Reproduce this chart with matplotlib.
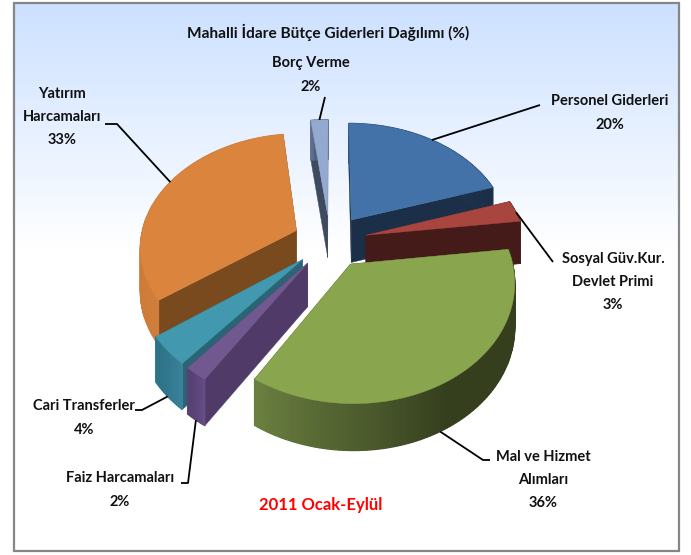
import numpy as np
import matplotlib
matplotlib.use("Agg")
import matplotlib.pyplot as plt
from matplotlib.colors import to_rgb
from matplotlib.patches import Polygon, Rectangle

plt.rcParams['font.family'] = ['Lato', 'DejaVu Sans']

# data, clockwise from 12 o'clock
labels = ['Personel Giderleri', 'Sosyal Güv.Kur.\nDevlet Primi', 'Mal ve Hizmet\nAlımları',
          'Faiz Harcamaları', 'Cari Transferler', 'Yatırım\nHarcamaları', 'Borç Verme']
values = [20, 3, 36, 2, 4, 33, 2]

top_colors = ['#4272a8', '#a8453f', '#89a54e', '#71588f', '#4198af', '#db843d', '#93a9cf']
wall_colors = ['#1b3048', '#441b19', '#3a4420', '#4f3a68', '#2a6475', '#794a1e', '#3d4a60']
rim_light = ['#2f527a', '#441b19', '#6b8040', '#654d84', '#3a8299', '#cf7d3a', '#5c6f90']
rim_dark = ['#1b3048', '#441b19', '#353f1e', '#574072', '#2f7388', '#c67a3a', '#3d4a60']

# where each wedge is drawn in the stack, back to front
draw_order = [6, 0, 5, 1, 4, 3, 2]

# pie geometry in image pixels
CX, CY = 330, 241
R = 160
slice_radius = [160, 160, 158, 160, 160, 156, 160]
EXPLODE = 37
TILT = 0.72
PERSP = 0.137
DEPTH = 43

# label text centre and leader line elbow points
label_pos = [(610, 113), (613, 282), (543, 480), (120, 490), (84, 418), (62, 117), (311, 75)]
leaders = [[(540, 105)],
           [(553, 262)],
           [(483, 460), (490, 460)],
           [(188, 483), (181, 483)],
           [(142, 410), (135, 410)],
           [(117, 124), (105, 124)],
           [(325, 97)]]
leader_angle = [36, 78, 152, 216, 226.8, 298, 356.4]
leader_drop = [0, 0, 1, 1, 1, 0, 0]


def project(theta, mid, radius=R, drop=0.0):
    """Map a point of an exploded wedge to image pixels."""
    u = EXPLODE * np.sin(mid) + radius * np.sin(theta)
    v = EXPLODE * np.cos(mid) + radius * np.cos(theta)
    k = 1.0 / (1.0 + PERSP * v / R)
    return CX + u * k, CY - TILT * v * k + drop * DEPTH * np.sqrt(k)


def mix(c1, c2, t):
    a, b = np.array(to_rgb(c1)), np.array(to_rgb(c2))
    return tuple(a + (b - a) * t)


fig = plt.figure(figsize=(6.91, 5.55), dpi=100)
ax = fig.add_axes([0, 0, 1, 1])
ax.axis('off')

# panel background
grad = np.ones((256, 1, 3))
fade = np.clip(np.linspace(0, 1, 256) / 0.45, 0, 1)
grad[:, 0, 0] = 0.80 + 0.20 * fade
grad[:, 0, 1] = 0.88 + 0.12 * fade
grad[:, 0, 2] = 1.0
ax.imshow(grad, extent=(14, 679, 551, 3), aspect='auto', zorder=0)
ax.set_xlim(0, 691)
ax.set_ylim(555, 0)
ax.add_patch(Rectangle((14, 3), 665, 548, fill=False, ec='#868686', lw=1.6, zorder=1))

edges = np.radians(np.cumsum([0] + values) * 3.6)
z = 2
for i in draw_order:
    t0, t1 = edges[i], edges[i + 1]
    mid = (t0 + t1) / 2
    rad = slice_radius[i]
    ts = np.linspace(t0, t1, max(int(values[i] * 3), 6))
    apex = project(0, mid, radius=0)
    apex_low = project(0, mid, radius=0, drop=1)

    # side walls, back one first
    walls = sorted([t0, t1], key=lambda t: -np.cos(t))
    for t in walls:
        a = project(t, mid, radius=rad)
        b = project(t, mid, radius=rad, drop=1)
        ax.add_patch(Polygon([apex, a, b, apex_low], fc=wall_colors[i], ec=wall_colors[i], lw=0.3, zorder=z))
        z += 1

    # outer wall with a left to right shading
    for j in range(len(ts) - 1):
        q = [project(ts[j], mid, radius=rad), project(ts[j + 1], mid, radius=rad),
             project(ts[j + 1], mid, radius=rad, drop=1), project(ts[j], mid, radius=rad, drop=1)]
        shade = 1 - (ts[j] - t0) / (t1 - t0)
        col = mix(rim_dark[i], rim_light[i], shade ** 2)
        if i == 2:
            # green goes dark in the lower right, light towards its left corner
            col = mix(rim_dark[i], rim_light[i], np.clip((ts[j] - np.radians(150)) / np.radians(62), 0, 1))
        ax.add_patch(Polygon(q, fc=col, ec=col, lw=0.9, zorder=z))
    z += 1

    # top face
    top = [apex] + [project(t, mid, radius=rad) for t in ts]
    ax.add_patch(Polygon(top, fc=top_colors[i], ec=top_colors[i], lw=0.3, zorder=z))
    z += 1

# leader lines and labels
for i in range(len(values)):
    a = np.radians(leader_angle[i])
    mid = (edges[i] + edges[i + 1]) / 2
    start = project(a, mid, radius=slice_radius[i], drop=leader_drop[i])
    pts = [start] + leaders[i]
    ax.plot([p[0] for p in pts], [p[1] for p in pts], color='black', lw=1.3, zorder=z,
            solid_capstyle='butt')
    ax.text(label_pos[i][0], label_pos[i][1], f"{labels[i]}\n{values[i]}%", ha='center', va='center',
            fontsize=10.5, fontweight='bold', color='#111111', linespacing=1.85, zorder=z)

ax.text(328, 32, 'Mahalli İdare Bütçe Giderleri Dağılımı (%)', ha='center', va='center',
        fontsize=11.1, fontweight='bold', color='#111111', zorder=z)
ax.text(321, 505, '2011 Ocak-Eylül', ha='center', va='center', fontsize=12,
        fontweight='bold', color='#ff0000', zorder=z)

fig.savefig('out.png', dpi=100)
